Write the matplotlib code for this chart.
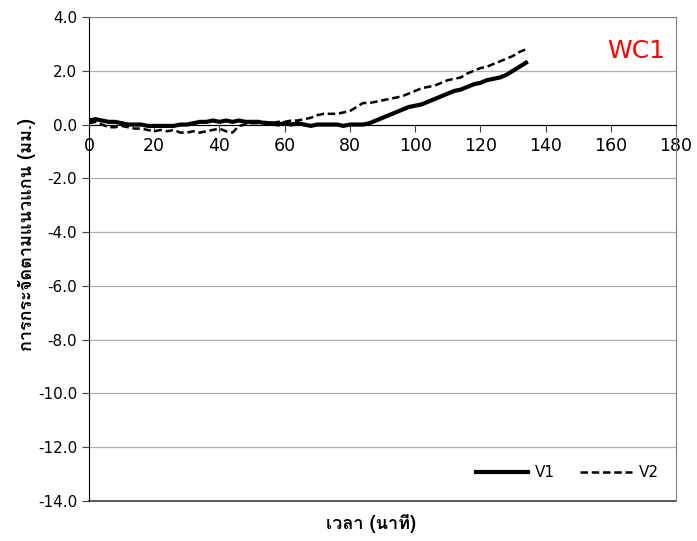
import matplotlib
matplotlib.use('Agg')
import matplotlib.pyplot as plt
from matplotlib import font_manager
from matplotlib.ft2font import FT2Font

# time (min) and displacement (mm)
t = list(range(0, 136, 2))
v1 = [0.15, 0.20, 0.15, 0.10, 0.10, 0.05, 0.00, 0.00, 0.00, -0.05,
      -0.05, -0.05, -0.05, -0.05, 0.00, 0.00, 0.05, 0.10, 0.10, 0.15,
      0.10, 0.15, 0.10, 0.15, 0.10, 0.10, 0.10, 0.05, 0.05, 0.00,
      0.05, 0.00, 0.05, 0.00, -0.05, 0.00, 0.00, 0.00, 0.00, -0.05,
      0.00, 0.00, 0.00, 0.05, 0.15, 0.25, 0.35, 0.45, 0.55, 0.65,
      0.70, 0.75, 0.85, 0.95, 1.05, 1.15, 1.25, 1.30, 1.40, 1.50,
      1.55, 1.65, 1.70, 1.75, 1.85, 2.00, 2.15, 2.30]
v2 = [0.05, 0.10, 0.00, -0.10, -0.10, -0.05, -0.10, -0.15, -0.15, -0.20,
      -0.25, -0.20, -0.25, -0.20, -0.30, -0.30, -0.25, -0.30, -0.25, -0.20,
      -0.15, -0.25, -0.30, -0.05, 0.00, 0.05, 0.05, 0.10, 0.05, 0.10,
      0.10, 0.15, 0.15, 0.20, 0.25, 0.35, 0.40, 0.40, 0.40, 0.45,
      0.50, 0.65, 0.80, 0.80, 0.85, 0.90, 0.95, 1.00, 1.05, 1.15,
      1.25, 1.35, 1.40, 1.45, 1.55, 1.65, 1.70, 1.75, 1.90, 2.00,
      2.10, 2.15, 2.25, 2.35, 2.45, 2.55, 2.70, 2.80]

xticks = list(range(0, 181, 20))
yticks = [-14 + 2 * i for i in range(10)]

# look for a font that has Thai glyphs
thai_font = None
for f in sorted(font_manager.findSystemFonts()):
    try:
        if 0x0E01 in FT2Font(f).get_charmap():
            thai_font = f
            break
    except Exception:
        pass
if thai_font:
    thai = font_manager.FontProperties(fname=thai_font, size=13, weight='bold')
else:
    thai = font_manager.FontProperties(family='DejaVu Sans', size=13, weight='bold')

fig = plt.figure(figsize=(6.97, 5.41), dpi=100)
ax = fig.add_axes([0.1277, 0.0739, 0.8422, 0.8947])

ax.plot(t, v1, color='black', lw=3.0, label='V1')
ax.plot(t, v2, color='black', lw=1.8, ls=(0, (3, 1.5)), label='V2')

ax.set_xlim(0, 180)
ax.set_ylim(-14, 4)
ax.set_xticks(xticks)
ax.set_yticks(yticks)
ax.set_yticklabels(['%.1f' % v for v in yticks])
ax.tick_params(axis='y', labelsize=11, direction='out', length=5, color='#404040')
ax.tick_params(axis='x', labelsize=12.5, direction='out', length=5,
               color='#404040', pad=4)
ax.yaxis.grid(True, color='#b0b0b0', lw=0.9)
ax.set_axisbelow(True)

ax.spines['bottom'].set_position(('data', 0))
ax.spines['bottom'].set_color('black')
ax.spines['left'].set_color('black')
for s in ['top', 'right']:
    ax.spines[s].set_color('#808080')
ax.axhline(-14, color='#404040', lw=1.2, clip_on=False)

ax.text(0.982, 0.955, 'WC1', transform=ax.transAxes, color='red',
        fontsize=18, ha='right', va='top')

ax.set_ylabel('การกระจัดตามแนวแกน (มม.)', fontproperties=thai)
ax.yaxis.set_label_coords(-0.09, 0.55)
ax.set_xlabel('เวลา (นาที)', fontproperties=thai)
ax.xaxis.set_label_coords(0.48, -0.027)

leg = ax.legend(loc='lower right', bbox_to_anchor=(0.995, 0.014), ncol=2,
                frameon=False, fontsize=11, handlelength=3.4,
                handletextpad=0.5, columnspacing=1.6)

fig.savefig('out.png', dpi=100)
